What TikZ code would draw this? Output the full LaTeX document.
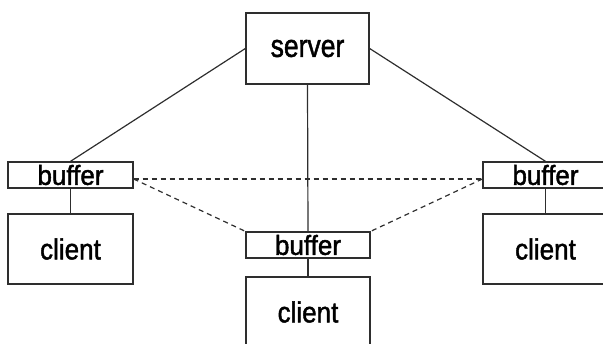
\documentclass[tikz,border=0pt]{standalone}
\usepackage{fontspec}
\setmainfont{Liberation Sans}
\newfontfamily\boxfont[FakeBold=1.6]{Liberation Sans}
\begin{document}
\begin{tikzpicture}[x=1pt,y=-1pt,
  box/.style={draw=linegray, line width=1.3pt, fill=white, inner sep=0pt,
    font=\boxfont\fontsize{26}{30}\selectfont},
  bufbox/.style={box, minimum width=125pt, minimum height=26pt},
  clientbox/.style={box, minimum width=125pt, minimum height=70pt},
  link/.style={draw=linegray, line width=1.2pt},
  peer/.style={link, dash pattern=on 5pt off 4pt}]
\definecolor{linegray}{HTML}{2E2E2E}
\useasboundingbox (0,0) rectangle (603,344);
\clip (0,0) rectangle (603,344);

% server on top
\node[box, minimum width=123pt, minimum height=71pt] (srv) at (307.5,48.5)
  {\scalebox{1.02}[1.22]{server}};

% three buffer/client pairs
\node[bufbox] (lb) at (70.5,175) {\scalebox{1}[1.06]{buffer}};
\node[clientbox] (lc) at (70.5,249) {\scalebox{1}[1.12]{client}};
\node[bufbox, minimum width=124pt] (mb) at (308,245) {\scalebox{1}[1.06]{buffer}};
\node[clientbox, minimum width=124pt] (mc) at (308,312) {\scalebox{1}[1.12]{client}};
\node[bufbox] (rb) at (545.5,175) {\scalebox{1}[1.06]{buffer}};
\node[clientbox] (rc) at (545.5,249) {\scalebox{1}[1.12]{client}};

% server links
\path[link] (srv.west) -- (lb.north);
\path[link] (srv.east) -- (rb.north);
\path[link] (srv.south) -- (mb.north);

% buffer to client
\path[link] (lb.south) -- (lc.north);
\path[link] (mb.south) -- (mc.north);
\path[link] (rb.south) -- (rc.north);

% buffer-to-buffer links
\path[peer] ([yshift=-4pt]lb.east) -- ([yshift=-4pt]rb.west);
\path[peer] ([yshift=-4pt]lb.east) -- (mb.north west);
\path[peer] ([yshift=-4pt]rb.west) -- (mb.north east);
\end{tikzpicture}
\end{document}
